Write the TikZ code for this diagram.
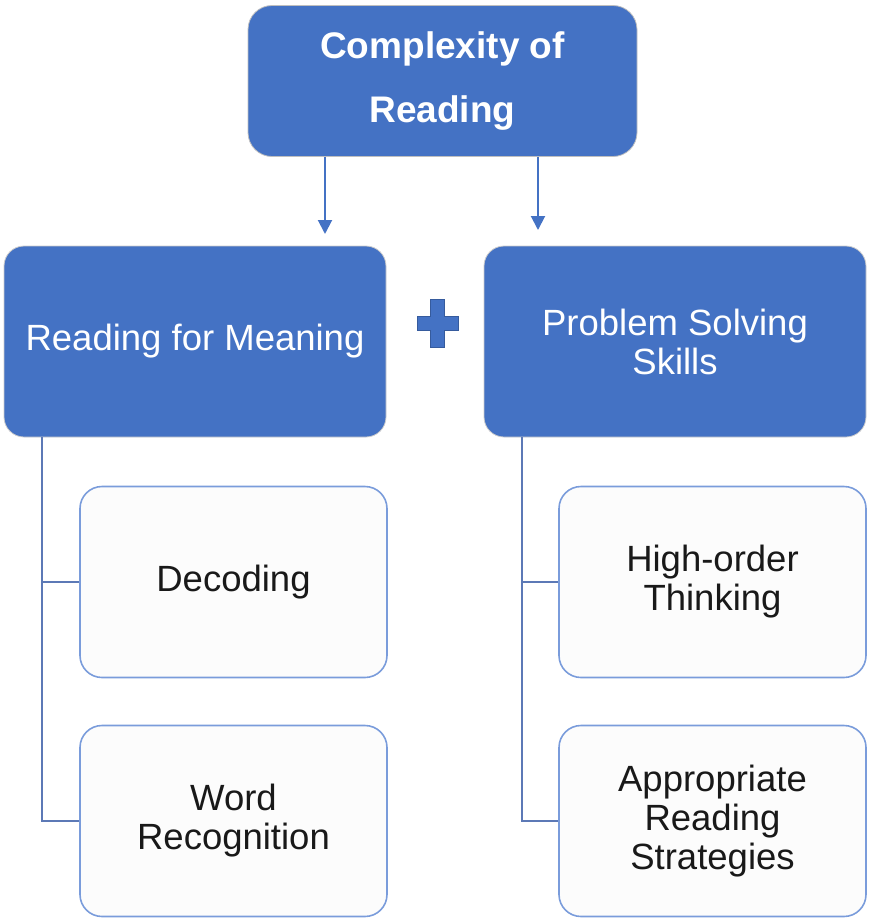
\documentclass[tikz,border=0pt]{standalone}
\usepackage{fontspec}
\setmainfont{Liberation Sans}
\usetikzlibrary{arrows.meta}
\definecolor{boxblue}{HTML}{4472C4}
\definecolor{subedge}{HTML}{7A9CDB}
\definecolor{trunkblue}{HTML}{5C79B6}
\definecolor{subfill}{HTML}{FCFCFC}
\begin{document}
\begin{tikzpicture}[x=1pt, y=-1pt]
        \tikzstyle{top_box} = [shape = rectangle, rounded corners=24pt, fill = boxblue, draw = black!25, line width=0.8pt,
                               text = white, align = center, minimum width=389pt, minimum height=151pt,
                               font = \fontsize{37}{64}\selectfont\bfseries]
        \tikzstyle{mid_box} = [shape = rectangle, rounded corners=20pt, fill = boxblue, draw = black!20, line width=0.8pt,
                               text = white, align = center, minimum width=382pt, minimum height=191pt,
                               font = \fontsize{36.5}{39}\selectfont]
        \tikzstyle{sub_box} = [shape = rectangle, rounded corners=22pt, fill = subfill, draw = subedge, line width=1.6pt,
                               text = black!90, align = center, minimum width=307pt, minimum height=191pt,
                               font = \fontsize{36.5}{39}\selectfont]
        \tikzstyle{trunk}   = [draw = trunkblue, line width=2pt]
        \tikzstyle{arr}     = [draw = boxblue, line width=2pt, -{Triangle[width=14pt, length=14pt]}]

        \useasboundingbox (0,0) rectangle (869,922);

        \node[top_box] at (442.5,  81.0) (top)  {Complexity of\\Reading};

        \node[mid_box] at (195.0, 341.5) (rfm)  {Reading for Meaning};
        \node[mid_box] at (675.0, 341.5) (pss)  {Problem Solving\\Skills};

        \node[sub_box] at (233.5, 582.0) (dec)  {Decoding};
        \node[sub_box] at (233.5, 821.0) (wrec) {Word\\Recognition};
        \node[sub_box] at (712.5, 582.0) (hot)  {High-order\\Thinking};
        \node[sub_box] at (712.5, 821.0) (ars)  {Appropriate\\Reading\\Strategies};

        % arrow ends and trunk tops
        \coordinate (la) at (325, 234);
        \coordinate (ra) at (538, 230);
        \coordinate (lt) at (42,  437);
        \coordinate (rt) at (522, 437);

        \draw[arr] (top.south -| la) -- (la);
        \draw[arr] (top.south -| ra) -- (ra);

        \draw[trunk]
          (lt) |- (dec.west)
          (lt) |- (wrec.west)
          (rt) |- (hot.west)
          (rt) |- (ars.west)
        ;

        % plus sign
        \fill[boxblue, draw = boxblue!80!black, line width=0.6pt]
          (430.5, 299) -- (444.5, 299) -- (444.5, 316) -- (458, 316) -- (458, 330)
          -- (444.5, 330) -- (444.5, 347) -- (430.5, 347) -- (430.5, 330) -- (417, 330)
          -- (417, 316) -- (430.5, 316) -- cycle;
      \end{tikzpicture}
\end{document}
